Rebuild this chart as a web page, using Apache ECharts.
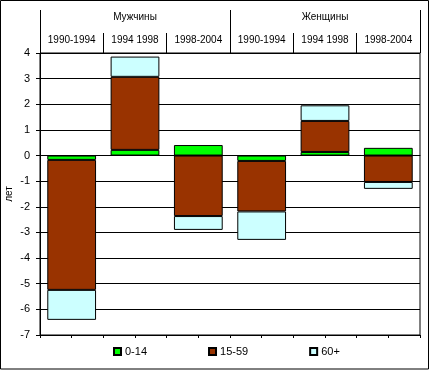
<!DOCTYPE html>
<html>
<head>
<meta charset="utf-8">
<script src="https://cdn.jsdelivr.net/npm/echarts@6/dist/echarts.min.js"></script>
<style>
html,body{margin:0;padding:0;background:#fff;}
#c{width:430px;height:370px;}
</style>
</head>
<body>
<div id="c"></div>
<script>
var periods = ['1990-1994', '1994 1998', '1998-2004', '1990-1994', '1994 1998', '1998-2004'];
var groups = ['Мужчины', 'Женщины'];
var seriesNames = ['0-14', '15-59', '60+'];
var age0_14 = [-0.17, 0.22, 0.41, -0.21, 0.14, 0.30];
var age15_59 = [-5.07, 2.85, -2.36, -1.97, 1.21, -1.03];
var age60 = [-1.17, 0.79, -0.54, -1.11, 0.61, -0.27];
var yTicks = [-7, -6, -5, -4, -3, -2, -1, 0, 1, 2, 3, 4];
var colors = ['#00FF00', '#993300', '#CCFFFF'];

var font = '"Liberation Sans", Arial, sans-serif';
var chart = echarts.init(document.getElementById('c'), null, {renderer: 'canvas'});
var values = [age0_14, age15_59, age60];
var series = seriesNames.map(function (n, i) {
  return {
    name: n,
    type: 'bar',
    stack: 'total',
    xAxisIndex: 0,
    yAxisIndex: 0,
    barCategoryGap: '23%',
    itemStyle: {color: colors[i], borderColor: '#000', borderWidth: 1},
    emphasis: {disabled: true},
    data: values[i]
  };
});

chart.setOption({
  animation: false,
  textStyle: {fontFamily: font},
  grid: {left: 40, right: 10, top: 53, bottom: 35, containLabel: false, outerBoundsMode: 'none',
    show: true, borderColor: '#000', borderWidth: 1, backgroundColor: 'transparent'},
  legend: {
    left: 113, top: 346, padding: 0,
    itemWidth: 7, itemHeight: 7, itemGap: 61,
    icon: 'rect',
    textStyle: {fontSize: 11, color: '#000', fontFamily: font, padding: [0, 0, 0, -1]},
    selectedMode: false,
    data: seriesNames
  },
  xAxis: [
    {
      type: 'category', data: periods, position: 'bottom',
      axisLine: {show: true, onZero: true, lineStyle: {color: '#000', width: 1}},
      axisTick: {show: false}, axisLabel: {show: false}, splitLine: {show: false}
    },
    {
      type: 'category', data: periods, position: 'top',
      axisLine: {show: false, onZero: false},
      axisTick: {show: true, length: 20, lineStyle: {color: '#000', width: 1}},
      axisLabel: {show: true, interval: 0, margin: 8, fontSize: 10, color: '#000', fontFamily: font},
      splitLine: {show: false}
    },
    {
      type: 'category', data: groups, position: 'top',
      axisLine: {show: false, onZero: false},
      axisTick: {show: true, length: 43, lineStyle: {color: '#000', width: 1}},
      axisLabel: {show: true, interval: 0, margin: 31, fontSize: 10, color: '#000', fontFamily: font},
      splitLine: {show: false}
    },
    {
      type: 'value', min: 0, max: 12, interval: 1, position: 'bottom',
      axisLine: {show: false, onZero: true},
      axisTick: {show: true, length: 3, lineStyle: {color: '#000', width: 1}},
      axisLabel: {show: false}, splitLine: {show: false}
    }
  ],
  yAxis: {
    type: 'value', min: yTicks[0], max: yTicks[yTicks.length - 1], interval: 1,
    name: 'лет', nameLocation: 'middle', nameGap: 26, nameRotate: 90, nameMoveOverlap: false,
    nameTextStyle: {fontSize: 10, color: '#000', fontFamily: font},
    axisLine: {show: true, lineStyle: {color: '#000', width: 1}},
    axisTick: {show: true, length: 4, lineStyle: {color: '#000', width: 1}},
    axisLabel: {fontSize: 11, color: '#000', margin: 10, fontFamily: font},
    splitLine: {show: true, lineStyle: {color: '#000', width: 1}}
  },
  graphic: [{
    type: 'rect', silent: true, z: 100,
    shape: {x: 0.5, y: 0.5, width: 428, height: 368.5},
    style: {fill: 'none', stroke: '#000', lineWidth: 1}
  }],
  series: series
});
</script>
</body>
</html>
